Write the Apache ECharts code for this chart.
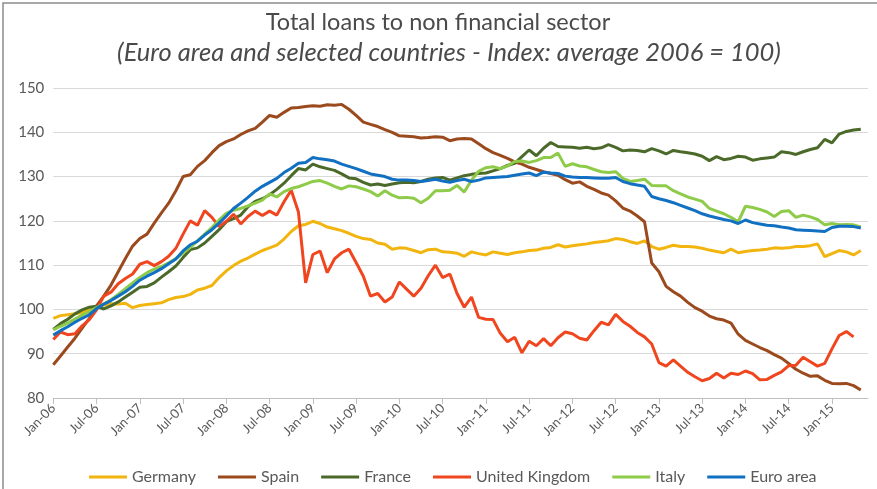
<!DOCTYPE html>
<html>
<head>
<meta charset="utf-8">
<script src="https://cdn.jsdelivr.net/npm/echarts@6/dist/echarts.min.js"></script>
<style>
html,body{margin:0;padding:0;background:#fff;}
#chart{width:877px;height:489px;}
</style>
</head>
<body>
<div id="chart"></div>
<script>
// ---- Data ----
const TITLE = 'Total loans to non financial sector';
const SUBTITLE = '(Euro area and selected countries - Index: average 2006 = 100)';
const MONTH_NAMES = ['Jan','Feb','Mar','Apr','May','Jun','Jul','Aug','Sep','Oct','Nov','Dec'];
const YEARS = ['06','07','08','09','10','11','12','13','14','15'];
const N_MONTHS = 114; // Jan-06 .. Jun-15
const Y_TICKS = [80, 90, 100, 110, 120, 130, 140, 150];
const SERIES_NAMES = ['Germany','Spain','France','United Kingdom','Italy','Euro area'];

const germany = [98,98.6,98.8,99,99.3,100,100.6,101,101.3,101.2,101.4,100.4,
100.9,101.1,101.3,101.5,102.2,102.7,102.9,103.4,104.4,104.8,105.4,107.2,
108.7,109.9,110.9,111.6,112.5,113.3,113.9,114.5,115.9,117.6,118.9,119.2,
119.9,119.4,118.6,118.2,117.8,117.2,116.5,116,115.8,115,114.7,113.6,
113.9,113.8,113.3,112.8,113.5,113.6,113,112.9,112.7,112,113,112.6,
112.3,113,112.7,112.4,112.8,113,113.3,113.4,113.8,114,114.6,114.1,
114.4,114.6,114.8,115.1,115.3,115.5,116,115.8,115.3,114.9,115.5,114.2,
113.6,114,114.5,114.2,114.2,114.1,113.8,113.4,113.1,112.8,113.6,112.8,
113.1,113.3,113.4,113.6,113.9,113.8,113.9,114.2,114.2,114.4,114.8,111.9,
112.6,113.3,113,112.3,113.3];

const spain = [87.5,89.5,91.5,93.5,95.8,98,100.8,103,105.5,108.5,111.5,114.3,
116,117,119.5,121.8,124,126.8,130,130.4,132.3,133.6,135.4,137,
137.9,138.5,139.5,140.3,140.9,142.3,143.8,143.4,144.5,145.5,145.6,145.8,
146,145.9,146.2,146.1,146.3,145.2,143.8,142.3,141.8,141.3,140.6,140,
139.2,139.1,139,138.7,138.8,139,138.9,138.1,138.5,138.6,138.5,137.4,
136.3,135.4,134.8,134.1,133.3,132.8,132.1,131.6,131.1,130.7,130.3,129.3,
128.5,128.8,127.8,127.1,126.3,125.8,124.5,122.9,122.2,121.1,119.8,110.5,
108.5,105.2,104,103,101.6,100.4,99.6,98.5,97.9,97.6,96.9,94.4,
93,92.2,91.4,90.7,89.8,89,87.8,86.5,85.6,84.9,85,84,
83.3,83.2,83.3,82.8,81.8];

const france = [95.5,96.8,97.8,99,99.9,100.5,100.7,100.1,100.8,101.7,102.8,103.9,
105,105.2,106,107.3,108.5,109.8,111.7,113.5,113.9,115,116.5,118,
119.8,120.5,121.3,123.2,124.4,125,125.9,127.1,128.5,130.2,131.8,131.5,
132.8,132.2,131.8,131.4,130.6,129.7,129.5,128.7,128.1,128.3,128,128.3,
128.6,128.7,128.6,128.9,129.4,129.7,129.8,129.2,129.7,130.2,130.5,130.7,
130.8,131.3,131.8,132.5,133,134.5,136,134.7,136.4,137.7,136.8,136.7,
136.6,136.4,136.6,136.3,136.5,137.2,136.6,135.8,136,135.9,135.6,136.3,
135.8,135.1,135.9,135.6,135.4,135.1,134.6,133.6,134.5,133.8,134.1,134.6,
134.4,133.7,134,134.2,134.4,135.6,135.4,135,135.6,136.1,136.5,138.4,
137.6,139.6,140.2,140.5,140.7];

const unitedKingdom = [93.2,94.9,94.3,94.5,96.3,97.7,99.9,103,103.9,105.8,107,108,
110.2,110.8,109.9,110.8,112,113.8,117,120,119,122.3,120.8,118.7,
119.9,121.5,119.3,121,122.2,121.2,122.2,121.3,124.3,126.9,122,106,
112.4,113.2,108.3,111.4,112.8,113.6,110.6,107.5,103,103.6,101.7,102.8,
106.2,104.6,103,104.8,107.6,110,107.2,108,103.6,100.5,102.8,98.2,
97.8,97.7,94.6,92.7,93.7,90.2,92.8,91.8,93.4,91.8,93.6,94.9,
94.5,93.5,93.1,95.2,97.1,96.5,98.9,97.3,96.2,94.8,93.8,92.2,
88,87.2,88.6,87.2,85.8,84.8,83.9,84.4,85.6,84.5,85.6,85.3,
86.1,85.5,84.1,84.2,85.1,85.9,87.3,87.4,89.2,88.2,87.2,87.8,
91.1,94.1,95,93.8];

const italy = [95.4,96.2,96.9,97.8,98.7,99.5,100.4,101.2,102.2,103.4,104.7,106,
107.2,108.3,109.1,109.7,110.5,111.5,112.7,114,115.5,117,118.5,120.2,
121.7,122.4,122.8,123.4,124,124.7,126.1,125.4,126.6,127.3,127.7,128.3,
128.9,129.1,128.5,127.8,127.2,127.9,127.7,127.2,126.6,125.6,126.8,125.8,
125.2,125.3,125.1,124.1,125.1,126.8,126.8,126.9,128,126.5,129.2,131.2,
132,132.2,131.8,132.4,133.4,133.5,133.2,133.6,134.3,134.3,135.3,132.3,
132.9,132.4,132.2,131.6,131.1,130.9,131.1,129.6,128.9,129.1,129.4,128,
127.9,127.9,126.8,126.1,125.4,124.9,124.4,122.8,122.2,121.6,120.8,119.8,
123.3,123,122.6,122,121,122.1,122.3,120.8,121.3,120.9,120.3,119.1,
119.4,119.1,119.2,119.1,118.6];

const euroArea = [94.2,95.2,96.1,97.1,98,98.8,100.2,101.2,102,103,104,105.2,
106.6,107.5,108.3,109.2,110.3,111.4,113.2,114.6,115.4,116.8,118,119.5,
121.1,122.8,124,125.3,126.7,127.8,128.7,129.6,130.9,131.9,133,133.2,
134.3,134,133.8,133.5,132.8,132.3,131.8,131.2,130.6,130.3,130,129.4,
129.2,129.2,129.1,128.9,129.1,129.4,129,128.7,129.1,129.4,128.9,129.2,
129.7,129.8,129.9,130,130.3,130.6,130.8,130.2,131,130.8,130.7,130.1,
129.9,129.8,129.8,129.7,129.6,129.6,129.8,128.9,128.4,128.1,127.8,125.5,
125,124.6,124.1,123.5,122.9,122.3,121.6,121.1,120.7,120.3,120,119.4,
120.2,119.6,119.3,119,118.9,118.6,118.4,118,117.9,117.8,117.7,117.6,
118.5,118.8,118.8,118.7,118.4];

const COLORS = ['#F2B50F','#9B4A1E','#4B6A2A','#F0461F','#8DCB48','#1270C2'];

// ---- Build ----
const categories = [];
for (let i = 0; i < N_MONTHS; i++) {
  categories.push(MONTH_NAMES[i % 12] + '-' + YEARS[Math.floor(i / 12)]);
}
const seriesData = [germany, spain, france, unitedKingdom, italy, euroArea];

const FONT = 'Lato';
const chart = echarts.init(document.getElementById('chart'), null, {renderer: 'canvas'});
chart.setOption({
  animation: false,
  backgroundColor: '#fff',
  title: [
    {text: TITLE, left: 438, textAlign: 'center', top: 10, padding: 0,
     textStyle: {fontFamily: FONT, fontSize: 23.5, fontWeight: 'normal', color: '#4a4a4a'}},
    {text: SUBTITLE, left: 449, textAlign: 'center', top: 40, padding: 0,
     textStyle: {fontFamily: FONT, fontSize: 25.5, fontWeight: 'normal', fontStyle: 'italic', color: '#4a4a4a'}}
  ],
  graphic: [
    {type: 'rect', shape: {x: 3, y: 3, width: 900, height: 500},
     style: {fill: 'none', stroke: '#8c8c8c', lineWidth: 1.5}, silent: true, z: 100}
  ],
  legend: {
    data: SERIES_NAMES,
    left: 89, top: 469, padding: 0,
    icon: 'rect', itemWidth: 38, itemHeight: 3, itemGap: 22,
    textStyle: {fontFamily: FONT, fontSize: 16, color: '#595959'}
  },
  grid: {left: 53.3, right: 9, top: 88, bottom: 91, containLabel: false},
  xAxis: {
    type: 'category', data: categories, boundaryGap: false,
    axisLine: {lineStyle: {color: '#BFBFBF', width: 1}},
    axisTick: {show: true, interval: 5, length: 6, lineStyle: {color: '#BFBFBF'}},
    axisLabel: {interval: 5, rotate: 45, margin: 8, fontFamily: FONT, fontSize: 13, color: '#595959'},
    splitLine: {show: false}
  },
  yAxis: {
    type: 'value', min: Y_TICKS[0], max: Y_TICKS[Y_TICKS.length - 1], interval: 10,
    axisLine: {show: false}, axisTick: {show: false},
    axisLabel: {fontFamily: FONT, fontSize: 15, color: '#595959', margin: 9},
    splitLine: {lineStyle: {color: '#D9D9D9', width: 1}}
  },
  series: SERIES_NAMES.map((name, i) => ({
    name: name, type: 'line', data: seriesData[i], symbol: 'none',
    lineStyle: {width: 3, color: COLORS[i]}, itemStyle: {color: COLORS[i]},
    z: 2 + i
  }))
});
</script>
</body>
</html>
